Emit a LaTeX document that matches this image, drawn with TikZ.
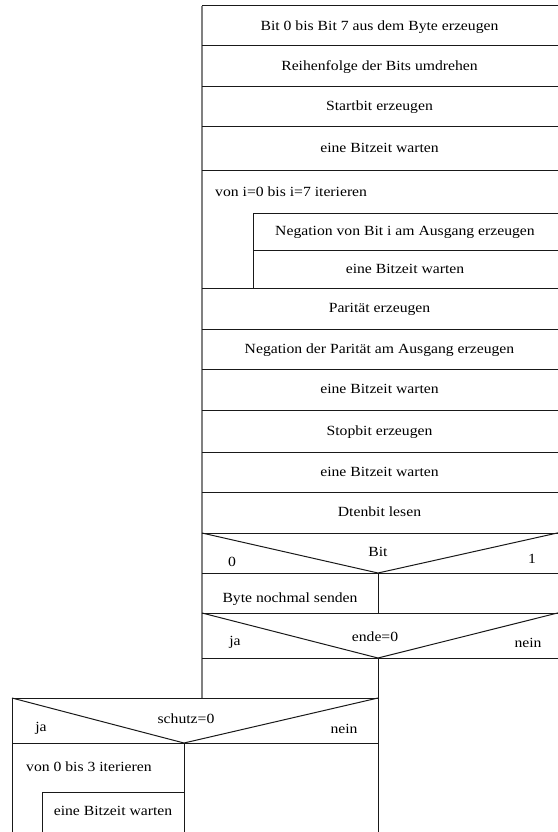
\documentclass[tikz,border=0pt]{standalone}
\usepackage{fontspec}
\setmainfont{Liberation Serif}[FakeStretch=1.12]
\begin{document}
\begin{tikzpicture}[x=1pt,y=-1pt,
  rule/.style={line width=1pt, black!90},
  frame/.style={line width=1.6pt, black!50},
  lbl/.style={anchor=base, inner sep=0pt, font=\fontsize{14}{16}\selectfont},
  lbll/.style={lbl, anchor=base west}]
\useasboundingbox (0,0) rectangle (557,832);

% outer frame of the main sequence
\draw[frame] (202,6) -- (202,698);

% row separators of the main sequence
\foreach \y in {6,46,87,127,170,288,329,369,410,452,492,533,573,613,658}
  \draw[rule] (202,\y) -- (560,\y);

% loop body
\draw[rule] (253,213) -- (560,213);
\draw[rule] (253,250) -- (560,250);
\draw[rule] (253,213) -- (253,288);

% case "Bit"
\draw[rule] (202,533) -- (378,573) -- (560,532.4);
\draw[rule] (378,573) -- (378,613);

% case "ende=0"
\draw[rule] (202,613) -- (378,658) -- (560,612.4);
\draw[rule] (378,658) -- (378,835);

% case "schutz=0"
\draw[rule] (12,698) -- (378,698);
\draw[rule] (12,698) -- (184,743) -- (378,698);
\draw[rule] (12,743) -- (378,743);
\draw[rule] (12,698) -- (12,835);
\draw[rule] (184,743) -- (184,835);
\draw[rule] (42,835) -- (42,792) -- (184,792);

% texts
\node[lbl] (t1) at (379.5,30.5) {Bit 0 bis Bit 7 aus dem Byte erzeugen};
\node[lbl] (t2) at (379.5,70.5) {Reihenfolge der Bits umdrehen};
\node[lbl] (t3) at (379.5,111) {Startbit erzeugen};
\node[lbl] (t4) at (379.5,152) {eine Bitzeit warten};
\node[lbll] (loop1) at (215,196) {von i=0 bis i=7 iterieren};
\node[lbl] (t5) at (405,235.5) {Negation von Bit i am Ausgang erzeugen};
\node[lbl] (t6) at (405,273) {eine Bitzeit warten};
\node[lbl] (t7) at (379.5,312.5) {Parität erzeugen};
\node[lbl] (t8) at (379.5,353) {Negation der Parität am Ausgang erzeugen};
\node[lbl] (t9) at (379.5,393.5) {eine Bitzeit warten};
\node[lbl] (t10) at (379.5,435) {Stopbit erzeugen};
\node[lbl] (t11) at (379.5,476) {eine Bitzeit warten};
\node[lbl] (t12) at (379.5,516.5) {Dtenbit lesen};

\node[lbl] (bitc) at (378,556.5) {Bit};
\node[lbl] (bit0) at (232,566) {0};
\node[lbl] (bit1) at (532,563.5) {1};
\node[lbl] (resend) at (290,602) {Byte nochmal senden};

\node[lbl] (endec) at (375,641.5) {ende=0};
\node[lbl] (endeja) at (235,645) {ja};
\node[lbl] (endenein) at (528,647.5) {nein};

\node[lbl] (schutzc) at (186,723) {schutz=0};
\node[lbl] (schutzja) at (41,731.5) {ja};
\node[lbl] (schutznein) at (344,733) {nein};

\node[lbll] (loop2) at (26,771.5) {von 0 bis 3 iterieren};
\node[lbl] (t13) at (113,815) {eine Bitzeit warten};
\end{tikzpicture}
\end{document}
